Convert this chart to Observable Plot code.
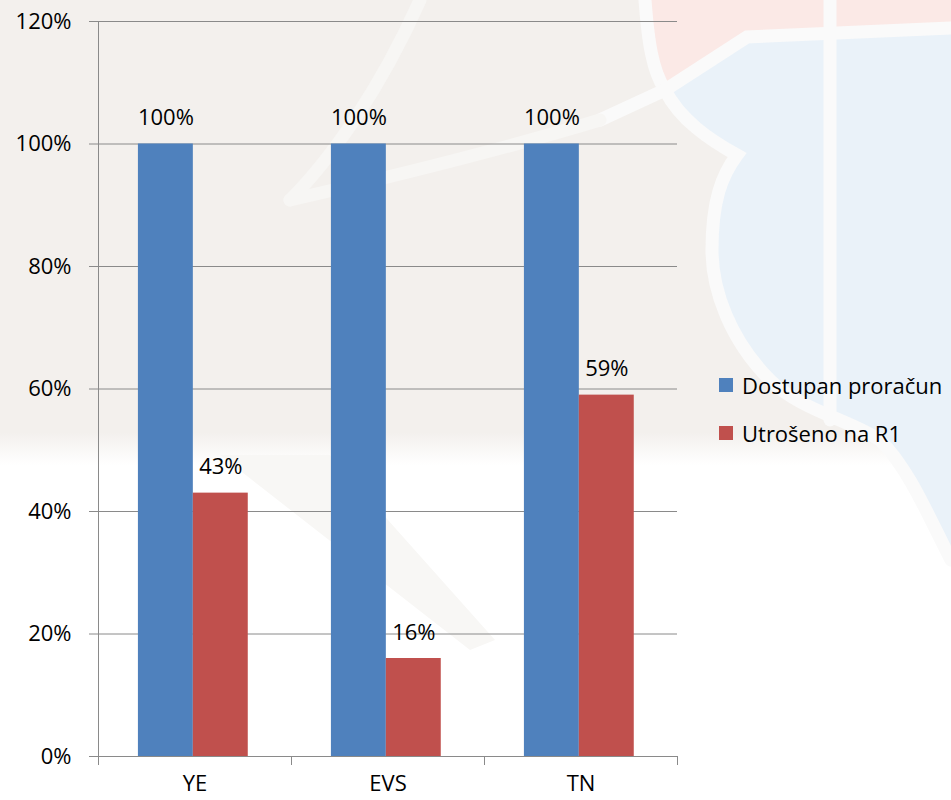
<!DOCTYPE html>
<html>
<head>
<meta charset="utf-8">
<script src="https://cdn.jsdelivr.net/npm/d3@7"></script>
<script src="https://cdn.jsdelivr.net/npm/@observablehq/plot@0.6"></script>
<style>
  html, body { margin: 0; padding: 0; background: #ffffff; }
  #wrap { position: relative; width: 951px; height: 800px; overflow: hidden; font-family: "Open Sans", sans-serif; }
  #bg { position: absolute; left: 0; top: 0; }
  #chart { position: absolute; left: 0; top: 0; }
  #legend { position: absolute; left: 719px; top: 372px; font-size: 22px; color: #000; }
  .item { display: flex; align-items: center; height: 25px; margin-bottom: 23.5px; white-space: nowrap; }
  .sw { width: 14px; height: 14px; margin-right: 9px; }
</style>
</head>
<body>
<div id="wrap">
  <svg id="bg" width="951" height="800">
    <defs>
      <linearGradient id="fade" x1="0" y1="0" x2="0" y2="1">
        <stop offset="0" stop-color="#f3f0ed"/>
        <stop offset="0.93" stop-color="#f3f0ed"/>
        <stop offset="1" stop-color="#ffffff"/>
      </linearGradient>
    </defs>
    <rect x="0" y="0" width="951" height="465" fill="url(#fade)"/>
    <path d="M220,455 L330,455 L495,640 L470,650 Z" fill="#f8f7f5"/>
    <path d="M645,0 L951,0 L951,30 L747,37 L665,90 C655,60 648,30 645,0 Z" fill="#fbe9e6"/>
    <path d="M665,90 L747,37 L951,30 L951,560 C930,520 910,470 880,440 C850,420 800,410 770,380 C730,340 712,290 712,250 C712,200 722,175 737,155 C710,140 680,120 665,90 Z" fill="#eaf2f9"/>
    <g fill="none" stroke="#fafafa" stroke-width="13" stroke-linecap="round">
      <path d="M645,0 C648,40 652,70 665,90 C680,120 710,140 737,155 C722,175 712,200 712,250 C712,290 730,340 770,380 C800,410 850,420 880,440 C910,470 930,520 951,560"/>
      <path d="M600,120 L665,90 L747,37 L951,28"/>
      <path d="M830,0 L830,420"/>
    </g>
    <g fill="none" stroke="#f7f6f4" stroke-width="13" stroke-linecap="round">
      <path d="M420,0 C380,90 330,160 290,200"/>
      <path d="M290,200 C400,175 500,150 600,120"/>
    </g>
  </svg>
  <div id="chart"></div>
  <div id="legend"></div>
</div>
<script>
const categories = ["YE", "EVS", "TN"];
const seriesNames = ["Dostupan proračun", "Utrošeno na R1"];
const available = [100, 100, 100];
const spent = [43, 16, 59];
const colors = ["#4f81bd", "#c0504d"];
const yTicks = [0, 20, 40, 60, 80, 100, 120];

const data = [];
categories.forEach((c, i) => {
  data.push({category: c, series: seriesNames[0], value: available[i]});
  data.push({category: c, series: seriesNames[1], value: spent[i]});
});

const plot = Plot.plot({
  width: 951,
  height: 800,
  marginLeft: 97,
  marginRight: 274,
  marginTop: 21,
  marginBottom: 44,
  style: {background: "transparent", fontFamily: "Open Sans, sans-serif", fontSize: "22px", color: "#000"},
  fx: {domain: categories, padding: 0, label: null, axis: null},
  x: {domain: seriesNames, paddingInner: 0, paddingOuter: 0.757, align: 0.48, round: false, axis: null},
  y: {domain: [0, 120], axis: null},
  color: {domain: seriesNames, range: colors},
  facet: {data: data, x: "category"},
  marks: [
    Plot.gridY(yTicks, {stroke: "#8a8a8a", strokeOpacity: 1, strokeWidth: 1}),
    Plot.barY(data, {x: "series", y: "value", fill: "series"}),
    Plot.text(data, {x: "series", y: "value", text: d => d.value + "%", dy: -26, fill: "#000", fontSize: 22}),
    Plot.axisY({ticks: yTicks, tickFormat: d => d + "%", tickSize: 9, tickPadding: 18, stroke: "#8a8a8a", fontSize: 22, fill: "#000", label: null}),
    Plot.axisFx({anchor: "bottom", tickSize: 0, tickPadding: 19, fontSize: 22, label: null, fill: "#000"})
  ]
});
document.getElementById("chart").appendChild(plot);

// axis line and category boundary ticks using the plot's own scales
const fx = plot.scale("fx");
const ys = plot.scale("y");
const svg = d3.select(plot);
const y0 = ys.apply(0), yTop = ys.apply(120);
const left = fx.apply(categories[0]);
const bounds = categories.map(c => fx.apply(c)).concat([fx.apply(categories[categories.length - 1]) + fx.bandwidth]);
const g = svg.append("g").attr("stroke", "#8a8a8a").attr("stroke-width", 1);
g.append("line").attr("x1", left + 0.5).attr("x2", left + 0.5).attr("y1", yTop).attr("y2", y0 + 9);
bounds.forEach(b => g.append("line").attr("x1", Math.round(b) + 0.5).attr("x2", Math.round(b) + 0.5).attr("y1", y0).attr("y2", y0 + 9));

// legend
const legend = d3.select("#legend");
seriesNames.forEach((s, i) => {
  const it = legend.append("div").attr("class", "item");
  it.append("div").attr("class", "sw").style("background", colors[i]);
  it.append("span").text(s);
});
</script>
</body>
</html>
